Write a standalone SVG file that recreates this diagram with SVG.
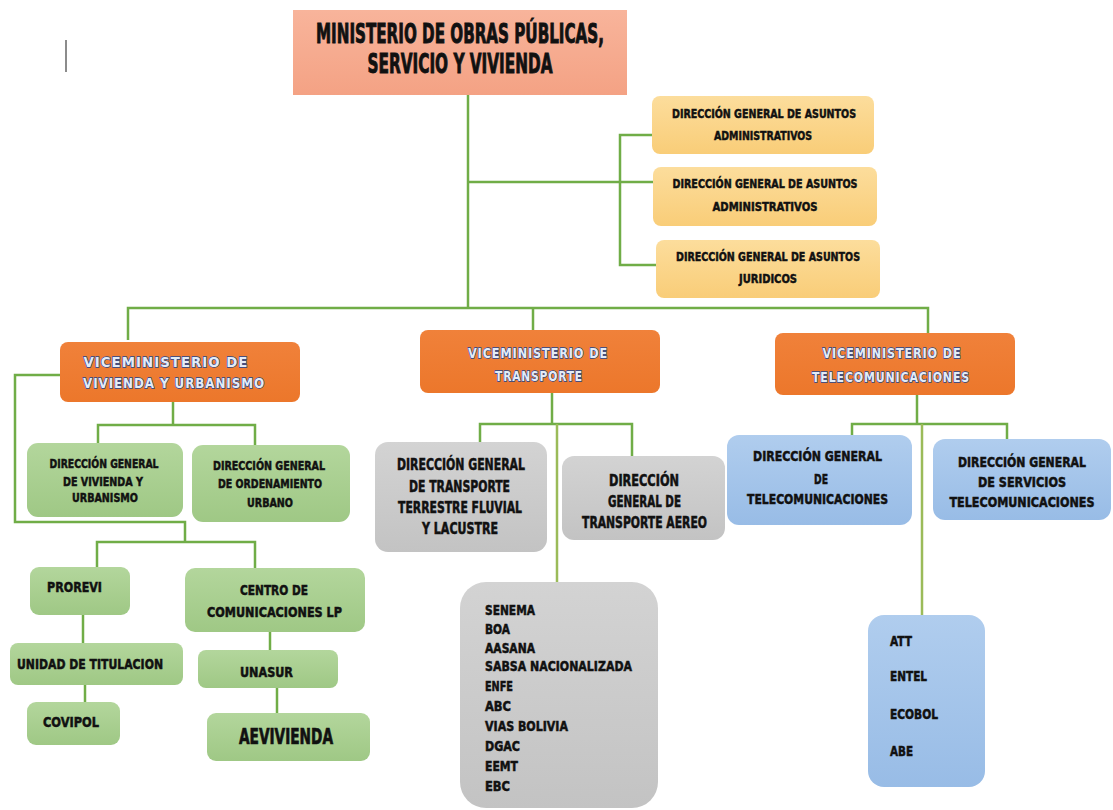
<svg xmlns="http://www.w3.org/2000/svg" width="1113" height="810" viewBox="0 0 1113 810">
<defs>
<linearGradient id="gTop" x1="0" y1="0" x2="0" y2="1"><stop offset="0" stop-color="#f8b49b"/><stop offset="1" stop-color="#f4a284"/></linearGradient>
<linearGradient id="gYel" x1="0" y1="0" x2="0" y2="1"><stop offset="0" stop-color="#fcdd9c"/><stop offset="1" stop-color="#f9cd78"/></linearGradient>
<linearGradient id="gOr" x1="0" y1="0" x2="0" y2="1"><stop offset="0" stop-color="#f0813a"/><stop offset="1" stop-color="#ec772b"/></linearGradient>
<linearGradient id="gGr" x1="0" y1="0" x2="0" y2="1"><stop offset="0" stop-color="#b3d69c"/><stop offset="1" stop-color="#9fc885"/></linearGradient>
<linearGradient id="gGy" x1="0" y1="0" x2="0" y2="1"><stop offset="0" stop-color="#d3d3d3"/><stop offset="1" stop-color="#c3c3c3"/></linearGradient>
<linearGradient id="gBl" x1="0" y1="0" x2="0" y2="1"><stop offset="0" stop-color="#b0cdee"/><stop offset="1" stop-color="#98bce6"/></linearGradient>
</defs>
<style>
text{font-family:"DejaVu Sans Condensed","DejaVu Sans","Liberation Sans",sans-serif;font-weight:bold;fill:#111;stroke:#111;stroke-width:0.5;}
.c{text-anchor:middle;}
.t{font-size:27px;stroke-width:0.9;}
.y{font-size:13px;}
.v{font-size:14px;fill:#e4ecf7;stroke:#24448a;stroke-width:1.3;letter-spacing:1px;paint-order:stroke;}
.g{font-size:13px;}
.gy{font-size:15px;}
.b{font-size:14px;}
.l{font-size:14px;}
.big{font-size:21px;stroke-width:0.7;}
.con{fill:none;stroke:#70ad47;stroke-width:2.5;}
</style>
<rect width="1113" height="810" fill="#ffffff"/>
<line x1="66" y1="40" x2="66" y2="72" stroke="#666" stroke-width="1.5"/>

<g id="connectors" class="con">
<path d="M468,95 V308"/>
<path d="M468,182 H655"/>
<path d="M655,135 H620 V265 H656"/>
<path d="M128,340 V308 H928 V333"/>
<path d="M533,308 V330"/>
<path d="M173,402 V425"/>
<path d="M98,443 V425 H255 V445"/>
<path d="M60,375 H15 V522 H185 V542"/>
<path d="M97,567 V542 H255 V568"/>
<path d="M83,615 V643"/>
<path d="M85,685 V702"/>
<path d="M270,632 V650"/>
<path d="M277,688 V713"/>
<path d="M552,393 V424"/>
<path d="M480,442 V424 H632 V456"/>
<path d="M557,424 V582" style="stroke:#9bbb59"/>
<path d="M917,395 V424"/>
<path d="M852,435 V424 H1007 V439"/>
<path d="M922,424 V615" style="stroke:#9bbb59"/>
</g>

<g id="ministerio">
<rect x="293" y="10" width="334" height="85" fill="url(#gTop)"/>
<text class="t c" x="460" y="43" textLength="288" lengthAdjust="spacingAndGlyphs">MINISTERIO DE OBRAS PÚBLICAS,</text>
<text class="t c" x="460" y="73" textLength="185" lengthAdjust="spacingAndGlyphs">SERVICIO Y VIVIENDA</text>
</g>

<g id="dg-admin-1">
<rect x="652" y="96" width="222" height="58" rx="8" fill="url(#gYel)"/>
<text class="y c" x="764" y="118" textLength="184" lengthAdjust="spacingAndGlyphs">DIRECCIÓN GENERAL DE ASUNTOS</text>
<text class="y c" x="763" y="140" textLength="98" lengthAdjust="spacingAndGlyphs">ADMINISTRATIVOS</text>
</g>
<g id="dg-admin-2">
<rect x="653" y="167" width="224" height="59" rx="8" fill="url(#gYel)"/>
<text class="y c" x="765" y="188" textLength="185" lengthAdjust="spacingAndGlyphs">DIRECCIÓN GENERAL DE ASUNTOS</text>
<text class="y c" x="765" y="211" textLength="105" lengthAdjust="spacingAndGlyphs">ADMINISTRATIVOS</text>
</g>
<g id="dg-juridicos">
<rect x="656" y="240" width="224" height="58" rx="8" fill="url(#gYel)"/>
<text class="y c" x="768" y="261" textLength="184" lengthAdjust="spacingAndGlyphs">DIRECCIÓN GENERAL DE ASUNTOS</text>
<text class="y c" x="768" y="283" textLength="58" lengthAdjust="spacingAndGlyphs">JURIDICOS</text>
</g>

<g id="vm-vivienda">
<rect x="60" y="342" width="240" height="60" rx="8" fill="url(#gOr)"/>
<text class="v c" x="166" y="367" textLength="165" lengthAdjust="spacingAndGlyphs">VICEMINISTERIO DE</text>
<text class="v c" x="174" y="388" textLength="182" lengthAdjust="spacingAndGlyphs">VIVIENDA Y URBANISMO</text>
</g>
<g id="vm-transporte">
<rect x="420" y="330" width="240" height="63" rx="8" fill="url(#gOr)"/>
<text class="v c" x="538" y="358" textLength="140" lengthAdjust="spacingAndGlyphs">VICEMINISTERIO DE</text>
<text class="v c" x="539" y="381" textLength="88" lengthAdjust="spacingAndGlyphs">TRANSPORTE</text>
</g>
<g id="vm-telecom">
<rect x="775" y="333" width="240" height="62" rx="8" fill="url(#gOr)"/>
<text class="v c" x="892" y="358" textLength="139" lengthAdjust="spacingAndGlyphs">VICEMINISTERIO DE</text>
<text class="v c" x="891" y="382" textLength="158" lengthAdjust="spacingAndGlyphs">TELECOMUNICACIONES</text>
</g>

<g id="dg-vivienda">
<rect x="27" y="443" width="156" height="74" rx="11" fill="url(#gGr)"/>
<text class="g c" x="104" y="468" textLength="109" lengthAdjust="spacingAndGlyphs">DIRECCIÓN GENERAL</text>
<text class="g c" x="103" y="486" textLength="80" lengthAdjust="spacingAndGlyphs">DE VIVIENDA Y</text>
<text class="g c" x="105" y="502" textLength="66" lengthAdjust="spacingAndGlyphs">URBANISMO</text>
</g>
<g id="dg-ordenamiento">
<rect x="192" y="445" width="158" height="77" rx="11" fill="url(#gGr)"/>
<text class="g c" x="269" y="470" textLength="112" lengthAdjust="spacingAndGlyphs">DIRECCIÓN GENERAL</text>
<text class="g c" x="270" y="488" textLength="104" lengthAdjust="spacingAndGlyphs">DE ORDENAMIENTO</text>
<text class="g c" x="270" y="507" textLength="46" lengthAdjust="spacingAndGlyphs">URBANO</text>
</g>

<g id="prorevi">
<rect x="30" y="567" width="100" height="48" rx="9" fill="url(#gGr)"/>
<text class="l c" x="74.5" y="592" textLength="55" lengthAdjust="spacingAndGlyphs">PROREVI</text>
</g>
<g id="centro-comunicaciones">
<rect x="185" y="568" width="180" height="64" rx="10" fill="url(#gGr)"/>
<text class="l c" x="274" y="595" textLength="68" lengthAdjust="spacingAndGlyphs">CENTRO DE</text>
<text class="l c" x="274.5" y="617" textLength="135" lengthAdjust="spacingAndGlyphs">COMUNICACIONES LP</text>
</g>
<g id="unidad-titulacion">
<rect x="10" y="643" width="173" height="42" rx="8" fill="url(#gGr)"/>
<text class="l c" x="90" y="669" textLength="146" lengthAdjust="spacingAndGlyphs">UNIDAD DE TITULACION</text>
</g>
<g id="covipol">
<rect x="27" y="702" width="93" height="43" rx="9" fill="url(#gGr)"/>
<text class="l c" x="71" y="727" textLength="56" lengthAdjust="spacingAndGlyphs">COVIPOL</text>
</g>
<g id="unasur">
<rect x="198" y="650" width="140" height="38" rx="8" fill="url(#gGr)"/>
<text class="l c" x="266.5" y="677" textLength="53" lengthAdjust="spacingAndGlyphs">UNASUR</text>
</g>
<g id="aevivienda">
<rect x="207" y="713" width="163" height="48" rx="9" fill="url(#gGr)"/>
<text class="big c" x="286" y="744" textLength="94" lengthAdjust="spacingAndGlyphs">AEVIVIENDA</text>
</g>

<g id="dg-terrestre">
<rect x="375" y="442" width="172" height="110" rx="13" fill="url(#gGy)"/>
<text class="gy c" x="461" y="469.5" textLength="128" lengthAdjust="spacingAndGlyphs">DIRECCIÓN GENERAL</text>
<text class="gy c" x="459.5" y="491.5" textLength="101" lengthAdjust="spacingAndGlyphs">DE TRANSPORTE</text>
<text class="gy c" x="460" y="512.5" textLength="124" lengthAdjust="spacingAndGlyphs">TERRESTRE FLUVIAL</text>
<text class="gy c" x="460" y="533.5" textLength="76" lengthAdjust="spacingAndGlyphs">Y LACUSTRE</text>
</g>
<g id="dg-aereo">
<rect x="562" y="456" width="163" height="84" rx="12" fill="url(#gGy)"/>
<text class="gy c" x="644" y="485.5" textLength="70" lengthAdjust="spacingAndGlyphs">DIRECCIÓN</text>
<text class="gy c" x="644.5" y="506.5" textLength="73" lengthAdjust="spacingAndGlyphs">GENERAL DE</text>
<text class="gy c" x="644.5" y="527.5" textLength="125" lengthAdjust="spacingAndGlyphs">TRANSPORTE AEREO</text>
</g>
<g id="entidades-transporte">
<rect x="460" y="582" width="198" height="226" rx="26" fill="url(#gGy)"/>
<text class="l" x="485" y="614.5" textLength="50" lengthAdjust="spacingAndGlyphs">SENEMA</text>
<text class="l" x="485" y="633.5" textLength="25" lengthAdjust="spacingAndGlyphs">BOA</text>
<text class="l" x="485" y="652.5" textLength="50" lengthAdjust="spacingAndGlyphs">AASANA</text>
<text class="l" x="485" y="670.5" textLength="147" lengthAdjust="spacingAndGlyphs">SABSA NACIONALIZADA</text>
<text class="l" x="485" y="690.5" textLength="28" lengthAdjust="spacingAndGlyphs">ENFE</text>
<text class="l" x="485" y="710.5" textLength="26" lengthAdjust="spacingAndGlyphs">ABC</text>
<text class="l" x="485" y="730.5" textLength="83" lengthAdjust="spacingAndGlyphs">VIAS BOLIVIA</text>
<text class="l" x="485" y="750.5" textLength="35" lengthAdjust="spacingAndGlyphs">DGAC</text>
<text class="l" x="485" y="770.5" textLength="33" lengthAdjust="spacingAndGlyphs">EEMT</text>
<text class="l" x="485" y="790.5" textLength="25" lengthAdjust="spacingAndGlyphs">EBC</text>
</g>

<g id="dg-telecom">
<rect x="727" y="435" width="185" height="90" rx="12" fill="url(#gBl)"/>
<text class="b c" x="817.5" y="461" textLength="129" lengthAdjust="spacingAndGlyphs">DIRECCIÓN GENERAL</text>
<text class="b c" x="821" y="484" textLength="14" lengthAdjust="spacingAndGlyphs">DE</text>
<text class="b c" x="817.5" y="504" textLength="141" lengthAdjust="spacingAndGlyphs">TELECOMUNICACIONES</text>
</g>
<g id="dg-servicios">
<rect x="933" y="439" width="178" height="81" rx="12" fill="url(#gBl)"/>
<text class="b c" x="1022" y="467" textLength="128" lengthAdjust="spacingAndGlyphs">DIRECCIÓN GENERAL</text>
<text class="b c" x="1022" y="487" textLength="88" lengthAdjust="spacingAndGlyphs">DE SERVICIOS</text>
<text class="b c" x="1022" y="507" textLength="145" lengthAdjust="spacingAndGlyphs">TELECOMUNICACIONES</text>
</g>
<g id="entidades-telecom">
<rect x="868" y="615" width="117" height="172" rx="16" fill="url(#gBl)"/>
<text class="l" x="890" y="645.5" textLength="22" lengthAdjust="spacingAndGlyphs">ATT</text>
<text class="l" x="890" y="680.5" textLength="37" lengthAdjust="spacingAndGlyphs">ENTEL</text>
<text class="l" x="890" y="718.5" textLength="48" lengthAdjust="spacingAndGlyphs">ECOBOL</text>
<text class="l" x="890" y="755.5" textLength="23" lengthAdjust="spacingAndGlyphs">ABE</text>
</g>
</svg>
